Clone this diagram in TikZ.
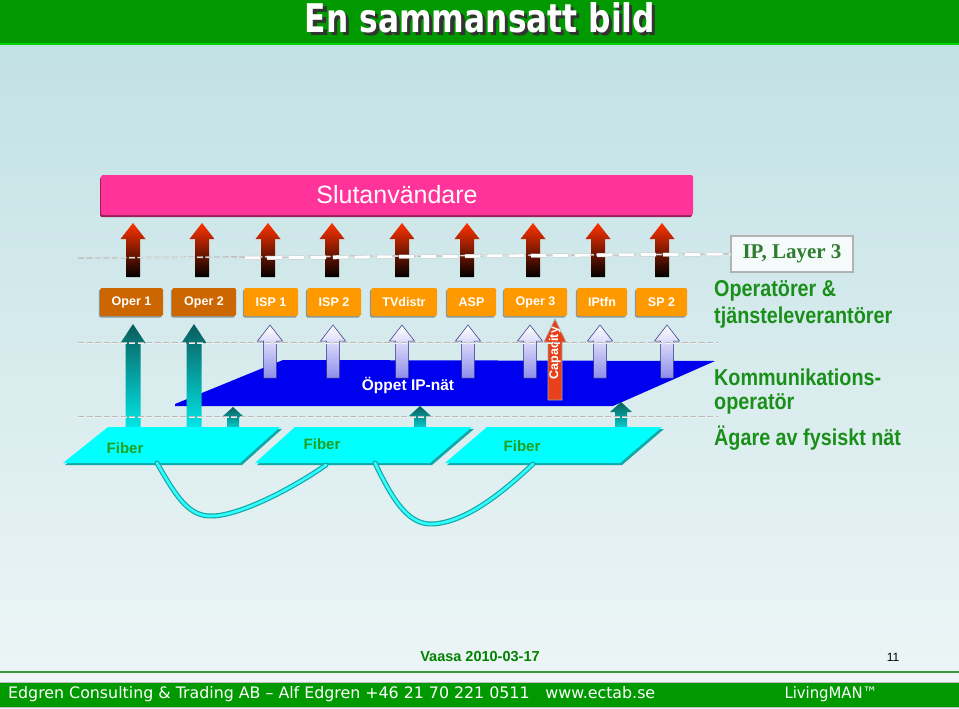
\documentclass[tikz,border=0pt]{standalone}
\usepackage{fontspec}
\setmainfont{Liberation Sans}
\newfontfamily\narrowfont[FakeStretch=0.86]{Liberation Sans}
\newfontfamily\seriffont{Liberation Serif}
\newfontfamily\comicfont{DejaVu Sans}
\usetikzlibrary{shadows}
\definecolor{TitleGreen}{HTML}{009900}
\definecolor{LineGreen}{HTML}{3A9A3A}
\definecolor{TextGreen}{HTML}{1A8F1A}
\definecolor{FiberGreen}{HTML}{20A020}
\definecolor{IPGreen}{HTML}{2E7D2E}
\definecolor{Pink}{HTML}{FF3399}
\definecolor{DarkOrange}{HTML}{CC6600}
\definecolor{Orange}{HTML}{FF9900}
\definecolor{Plane}{HTML}{0000F0}
\definecolor{Cyan}{HTML}{00FFFF}
\definecolor{CyanDark}{HTML}{12A8A8}
\definecolor{Teal}{HTML}{0A5C5C}
\definecolor{Lav}{HTML}{8C8CEC}
\definecolor{Navy}{HTML}{2A2A7A}
\definecolor{RedTop}{HTML}{FF3300}
\definecolor{RedMid}{HTML}{A01000}
\definecolor{CapRed}{HTML}{E8401A}
\definecolor{BgTop}{HTML}{BFE0E3}
\definecolor{BgBot}{HTML}{EFF6F7}
\tikzset{
    rolebox/.style={rectangle, rounded corners=1.5pt, fill=Orange, text=white, font=\bfseries\fontsize{12.5}{14}\selectfont, minimum height=28pt, inner sep=0pt, drop shadow={shadow xshift=-1.2pt, shadow yshift=-1.5pt, fill=black, opacity=0.35}},
    operbox/.style={rolebox, fill=DarkOrange},
    layertext/.style={anchor=west, inner sep=0pt, text=TextGreen, font=\narrowfont\bfseries\fontsize{23}{25}\selectfont},
    fibertext/.style={text=FiberGreen, font=\bfseries\fontsize{15}{17}\selectfont},
    dashline/.style={draw=gray!55, double=white!90!gray, double distance=0.5pt, line width=0.6pt, dash pattern=on 6pt off 2.5pt},
    bigdash/.style={draw=gray!45, double=white, double distance=3pt, line width=0.5pt, dash pattern=on 15pt off 7pt},
    fiberline/.style={draw=CyanDark, line width=5pt, line cap=round},
    fibercore/.style={draw=Cyan!80!white, line width=2.6pt, line cap=round},
}
\begin{document}
\begin{tikzpicture}[x=1pt, y=-1pt]
    \useasboundingbox (0,0) rectangle (959,709);
    % Bakgrund
    \shade[top color=BgTop, bottom color=BgBot] (0,0) rectangle (959,709);

    % Rubrik
    \fill[TitleGreen] (0,0) rectangle (959,43);
    \fill[green!60!TitleGreen] (0,43) rectangle (959,45);
    \node[text=white, inner sep=0pt] (title) at (480,19) {\resizebox{350pt}{30pt}{\comicfont\bfseries\makebox[0pt][l]{\kern0.1em\raisebox{-0.08em}{\textcolor{black!80}{En sammansatt bild}}}En sammansatt bild}};

    % Slutanvändare
    \node[fill=Pink, rounded corners=2pt, minimum width=592pt, minimum height=40pt, text=white, font=\fontsize{25}{27}\selectfont, drop shadow={shadow xshift=-1pt, shadow yshift=-2pt, fill=Pink!60!black, opacity=1}] (slut) at (397,195) {Slutanvändare};

    % Röda pilar
    \foreach \x in {133,202,268,332,402,467,533,598,662}
        \shade[top color=RedTop, middle color=RedMid, bottom color=black] ({\x-7},277) -- ({\x-7},239) -- ({\x-12.5},239) -- (\x,223) -- ({\x+12.5},239) -- ({\x+7},239) -- ({\x+7},277) -- cycle;

    % IP, Layer 3
    \node[draw=gray!60, line width=1.5pt, fill=white!85!BgTop, minimum width=122pt, minimum height=36pt, text=IPGreen, font=\seriffont\bfseries\fontsize{21}{23}\selectfont] (ipbox) at (792,254) {IP, Layer 3};
    \coordinate (l1start) at (78,258);
    \coordinate (l1white) at (245,258);
    \draw[dashline] (l1start) -- (ipbox.west);
    \draw[bigdash] (l1white) -- (ipbox.west);

    % Aktörer
    \foreach \n/\t/\c/\w/\s in {oper1/Oper 1/131.5/63/operbox, oper2/Oper 2/204/64/operbox, isp1/ISP 1/271/54/rolebox, isp2/ISP 2/334/54/rolebox, tvdistr/TVdistr/404/66/rolebox, asp/ASP/471.5/49/rolebox, oper3/Oper 3/535.5/63/rolebox, iptfn/IPtfn/602/50/rolebox, sp2/SP 2/661.5/51/rolebox}
        \node[\s, minimum width=\w] (\n) at (\c,302) {\t};

    % Lagertexter
    \node[layertext] (opstext) at (714,291) {Operatörer \&};
    \node[layertext] (tjtext) at (714,318) {tjänsteleverantörer};
    \node[layertext] (komtext) at (714,377) {Kommunikations-};
    \node[layertext] (optext) at (714,404) {operatör};
    \node[layertext] (agtext) at (714,438) {Ägare av fysiskt nät};

    % Öppet IP-nät
    \fill[Plane] (175,404) -- (263,368) -- (283,360) -- (715,361) -- (613,406) -- (175,406) -- cycle;
    \node[text=white, font=\bfseries\fontsize{15.5}{17}\selectfont] (ipnat) at (408,385) {Öppet IP-nät};

    % Ljusa pilar
    \foreach \x in {270,333,402,468,530,600,667}
        \shadedraw[top color=white, bottom color=Lav, draw=Navy, line width=0.5pt] ({\x-6.5},378) -- ({\x-6.5},341) -- ({\x-12.5},341) -- (\x,325) -- ({\x+12.5},341) -- ({\x+6.5},341) -- ({\x+6.5},378) -- cycle;

    % Capacity
    \filldraw[fill=CapRed, draw=gray!70, line width=0.6pt] (548,400) -- (548,342) -- (544,342) -- (555,319) -- (566,342) -- (562,342) -- (562,400) -- cycle;
    \node[rotate=90, text=white, inner sep=0pt, font=\bfseries\fontsize{12.5}{13}\selectfont] (cap) at (555,353) {Capacity};

    % Gröna pilar
    \foreach \x in {133,194}
        \shade[top color=Teal, bottom color=Cyan!85!Teal] ({\x-7.5},428) -- ({\x-7.5},343) -- ({\x-12.5},343) -- (\x,324) -- ({\x+12.5},343) -- ({\x+7.5},343) -- ({\x+7.5},428) -- cycle;
    \foreach \x/\t in {233/407, 420/406, 621/402}
        \shade[top color=Teal, bottom color=Cyan!70!Teal] ({\x-6},428) -- ({\x-6},{\t+10}) -- ({\x-11},{\t+10}) -- (\x,\t) -- ({\x+11},{\t+10}) -- ({\x+6},{\t+10}) -- ({\x+6},428) -- cycle;

    % Streckade linjer
    \coordinate (l2start) at (78,343);
    \coordinate (l2end) at (718,343);
    \coordinate (l3start) at (78,417);
    \coordinate (l3end) at (718,417);
    \draw[dashline] (l2start) -- (l2end);
    \draw[dashline] (l3start) -- (l3end);

    % Fiber
    \foreach \a/\b/\c/\d in {108/280/240/63, 295/472/430/255, 487/662/620/445} {
        \fill[CyanDark] ({\a+2},429) -- ({\b+2},429) -- ({\c+2},465) -- ({\d+2},465) -- cycle;
        \fill[Cyan] (\a,427) -- (\b,427) -- (\c,463) -- (\d,463) -- cycle;
    }
    \node[fibertext] (fiber1) at (125,448) {Fiber};
    \node[fibertext] (fiber2) at (322,444) {Fiber};
    \node[fibertext] (fiber3) at (522,446) {Fiber};

    % Fiberkablar
    \coordinate (k1a) at (157,463);
    \coordinate (k1b) at (326,465);
    \coordinate (k2a) at (375,463);
    \coordinate (k2b) at (533,464);
    \draw[fiberline] (k1a) .. controls (178,500) and (190,517) .. (213,516) .. controls (240,515) and (290,490) .. (k1b);
    \draw[fibercore] (k1a) .. controls (178,500) and (190,517) .. (213,516) .. controls (240,515) and (290,490) .. (k1b);
    \draw[fiberline] (k2a) .. controls (395,505) and (410,525) .. (433,524) .. controls (465,522) and (500,495) .. (k2b);
    \draw[fibercore] (k2a) .. controls (395,505) and (410,525) .. (433,524) .. controls (465,522) and (500,495) .. (k2b);

    % Sidfot
    \node[text=TitleGreen!85!black, font=\bfseries\fontsize{14.5}{16}\selectfont] (datum) at (480,657) {Vaasa 2010-03-17};
    \node[font=\fontsize{12}{14}\selectfont] (sida) at (893,657) {11};
    \fill[LineGreen] (0,671) rectangle (959,673);
    \filldraw[fill=TitleGreen, draw=gray!50, line width=0.6pt] (-1,682) rectangle (960,707);
    \node[anchor=west, text=white, inner sep=0pt] (firma) at (8,694) {\resizebox{647pt}{12pt}{\comicfont Edgren Consulting \& Trading AB – Alf Edgren +46 21 70 221 0511\quad www.ectab.se}};
    \node[text=white, inner sep=0pt] (living) at (831,694) {\resizebox{93pt}{12pt}{\comicfont LivingMAN™}};
\end{tikzpicture}
\end{document}
